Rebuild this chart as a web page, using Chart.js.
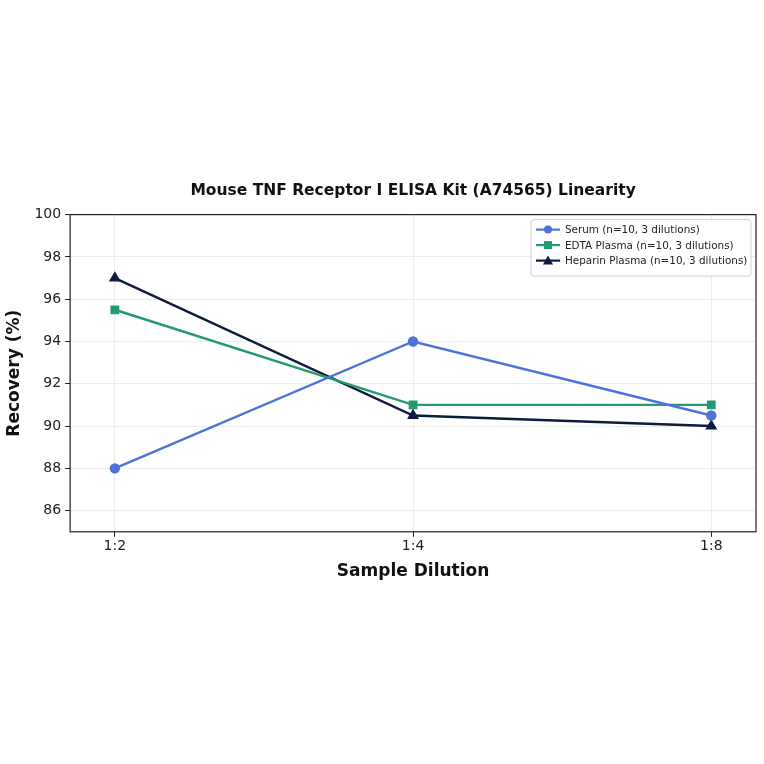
<!DOCTYPE html>
<html>
<head>
<meta charset="utf-8">
<script src="https://cdn.jsdelivr.net/npm/chart.js@4.4.1/dist/chart.umd.min.js"></script>
<style>
  html, body { margin: 0; padding: 0; background: #fff; }
  #wrap { width: 764px; height: 764px; }
</style>
</head>
<body>
<div id="wrap"><canvas id="linChart" width="764" height="764"></canvas></div>
<script>
// chart values
const dilutions = ['1:2', '1:4', '1:8'];
const serum = [88, 94, 90.5];
const edtaPlasma = [95.5, 91, 91];
const heparinPlasma = [97, 90.5, 90];
const seriesNames = [
    'Serum (n=10, 3 dilutions)',
    'EDTA Plasma (n=10, 3 dilutions)',
    'Heparin Plasma (n=10, 3 dilutions)'
];
const yTicks = [86, 88, 90, 92, 94, 96, 98, 100];

const FONT = "'DejaVu Sans', sans-serif";

function toPoints(values) {
    return values.map((v, i) => ({ x: i, y: v }));
}

// frame around the plot plus matplotlib-like legend box
const framePlugin = {
    id: 'frame',
    afterDraw(chart) {
        const { ctx, chartArea: a } = chart;
        ctx.save();
        ctx.strokeStyle = '#222';
        ctx.lineWidth = 1.2;
        ctx.strokeRect(a.left, a.top, a.right - a.left, a.bottom - a.top);

        // legend
        const boxW = 220, rowH = 15.5;
        const boxH = 10 + rowH * chart.data.datasets.length;
        const bx = a.right - boxW - 5, by = a.top + 5;
        ctx.fillStyle = 'rgba(255,255,255,0.9)';
        ctx.strokeStyle = '#d0d0d0';
        ctx.lineWidth = 1;
        ctx.beginPath();
        ctx.roundRect(bx, by, boxW, boxH, 3);
        ctx.fill();
        ctx.stroke();
        ctx.font = '10.4px ' + FONT;
        ctx.textBaseline = 'middle';
        chart.data.datasets.forEach((ds, i) => {
            const cy = by + 10 + i * rowH;
            const lx = bx + 5;
            ctx.strokeStyle = ds.borderColor;
            ctx.lineWidth = 2.2;
            ctx.beginPath();
            ctx.moveTo(lx, cy);
            ctx.lineTo(lx + 24, cy);
            ctx.stroke();
            ctx.fillStyle = ds.borderColor;
            const mx = lx + 12;
            ctx.beginPath();
            if (ds.pointStyle === 'circle') {
                ctx.arc(mx, cy, 4, 0, Math.PI * 2);
            } else if (ds.pointStyle === 'rect') {
                ctx.rect(mx - 4, cy - 4, 8, 8);
            } else {
                ctx.moveTo(mx, cy - 5);
                ctx.lineTo(mx + 5, cy + 4);
                ctx.lineTo(mx - 5, cy + 4);
                ctx.closePath();
            }
            ctx.fill();
            ctx.fillStyle = '#222';
            ctx.textAlign = 'left';
            ctx.fillText(ds.label, lx + 29, cy + 1);
        });
        ctx.restore();
    }
};

const ctx = document.getElementById('linChart').getContext('2d');
new Chart(ctx, {
    type: 'line',
    data: {
        datasets: [
            {
                label: seriesNames[0],
                data: toPoints(serum),
                borderColor: '#4f72d9',
                backgroundColor: '#4f72d9',
                borderWidth: 2.4,
                pointStyle: 'circle',
                pointRadius: 4
            },
            {
                label: seriesNames[1],
                data: toPoints(edtaPlasma),
                borderColor: '#239a74',
                backgroundColor: '#239a74',
                borderWidth: 2.4,
                pointStyle: 'rect',
                pointRadius: 4.5
            },
            {
                label: seriesNames[2],
                data: toPoints(heparinPlasma),
                borderColor: '#0e1a3e',
                backgroundColor: '#0e1a3e',
                borderWidth: 2.4,
                pointStyle: 'triangle',
                pointRadius: 4.5
            }
        ]
    },
    options: {
        responsive: false,
        animation: false,
        elements: {
            line: { tension: 0 },
            point: { borderWidth: 1 }
        },
        layout: { padding: { top: 182, bottom: 179, left: 0, right: 8 } },
        scales: {
            x: {
                type: 'linear',
                min: -0.15,
                max: 2.15,
                afterBuildTicks(axis) {
                    axis.ticks = dilutions.map((d, i) => ({ value: i }));
                },
                ticks: {
                    callback: v => dilutions[v],
                    font: { family: FONT, size: 14 },
                    color: '#222',
                    padding: 1
                },
                grid: { color: '#ececec', tickColor: '#222', tickLength: 5 },
                border: { display: false },
                title: {
                    display: true,
                    text: 'Sample Dilution',
                    font: { family: FONT, size: 17, weight: 'bold' },
                    color: '#111',
                    padding: { top: 6, bottom: 3 }
                }
            },
            y: {
                min: 85,
                max: 100,
                afterBuildTicks(axis) {
                    axis.ticks = yTicks.map(v => ({ value: v }));
                },
                ticks: {
                    font: { family: FONT, size: 14 },
                    color: '#222',
                    padding: 4
                },
                grid: { color: '#ececec', tickColor: '#222', tickLength: 5 },
                border: { display: false },
                title: {
                    display: true,
                    text: 'Recovery (%)',
                    font: { family: FONT, size: 17, weight: 'bold' },
                    color: '#111',
                    padding: { bottom: 6 }
                }
            }
        },
        plugins: {
            legend: { display: false },
            tooltip: { enabled: false },
            title: {
                display: true,
                fullSize: false,
                text: 'Mouse TNF Receptor I ELISA Kit (A74565) Linearity',
                font: { family: FONT, size: 15.5, weight: 'bold' },
                color: '#111',
                padding: { bottom: 14 }
            }
        }
    },
    plugins: [framePlugin]
});
</script>
</body>
</html>
